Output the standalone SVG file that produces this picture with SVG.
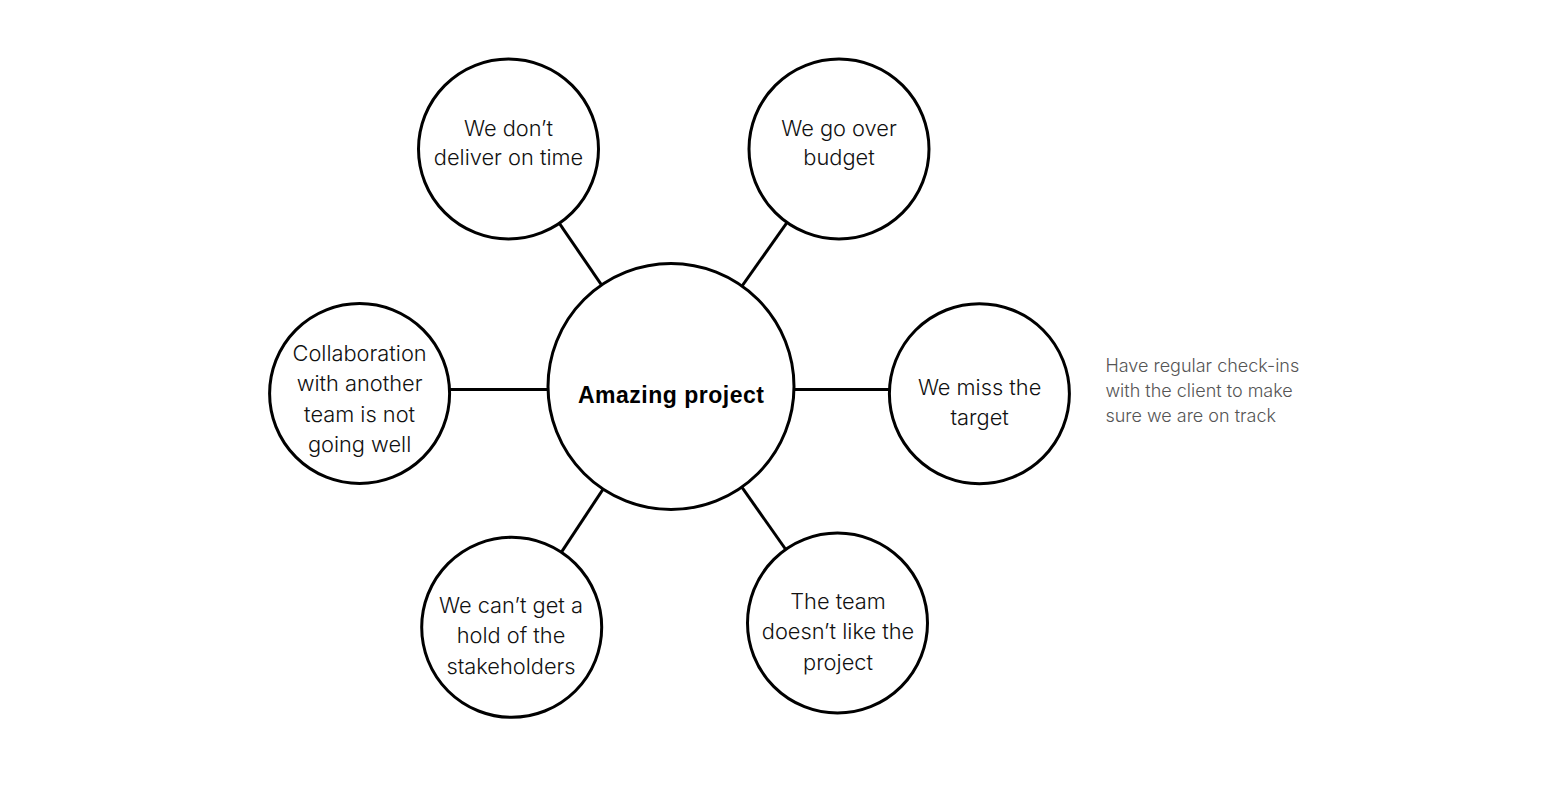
<svg xmlns="http://www.w3.org/2000/svg" width="1541" height="785" viewBox="0 0 1541 785">
<style>
  .bg { fill: #ffffff; }
  .conn { stroke: #000; stroke-width: 3; fill: none; }
  .node { fill: #fff; stroke: #000; stroke-width: 3; }
  .lbl { font-family: "Inter", "Liberation Sans", sans-serif; font-weight: 300; font-size: 21.8px; fill: #111; text-anchor: middle; }
  .main { font-family: "Liberation Sans", "Inter", sans-serif; font-weight: 700; font-size: 23px; fill: #000; text-anchor: middle; }
  .note { font-family: "Inter", "Liberation Sans", sans-serif; font-weight: 300; font-size: 18px; fill: #555; }
</style>
<rect class="bg" x="0" y="0" width="1541" height="785"/>
<g id="connectors">
  <line class="conn" x1="671" y1="386.5" x2="508.5" y2="149"/>
  <line class="conn" x1="671" y1="386.5" x2="839" y2="149"/>
  <line class="conn" x1="671" y1="389.5" x2="359.6" y2="389.5"/>
  <line class="conn" x1="671" y1="389.5" x2="979.4" y2="389.5"/>
  <line class="conn" x1="671" y1="386.5" x2="511.7" y2="627.3"/>
  <line class="conn" x1="671" y1="386.5" x2="837.5" y2="623"/>
</g>
<g id="node-center">
  <circle class="node" cx="671" cy="386.5" r="123"/>
  <text class="main" x="671" y="403" textLength="186" lengthAdjust="spacing">Amazing project</text>
</g>
<g id="node-time">
  <circle class="node" cx="508.5" cy="149" r="90"/>
  <text class="lbl" x="508.5" y="136">We don’t</text>
  <text class="lbl" x="508.5" y="165">deliver on time</text>
</g>
<g id="node-budget">
  <circle class="node" cx="839" cy="149" r="90"/>
  <text class="lbl" x="839" y="136">We go over</text>
  <text class="lbl" x="839" y="165">budget</text>
</g>
<g id="node-collab">
  <circle class="node" cx="359.6" cy="393.5" r="90"/>
  <text class="lbl" x="359.6" y="361">Collaboration</text>
  <text class="lbl" x="359.6" y="391">with another</text>
  <text class="lbl" x="359.6" y="421.5">team is not</text>
  <text class="lbl" x="359.6" y="451.5">going well</text>
</g>
<g id="node-target">
  <circle class="node" cx="979.4" cy="393.7" r="90"/>
  <text class="lbl" x="979.6" y="395">We miss the</text>
  <text class="lbl" x="979.6" y="425">target</text>
</g>
<g id="node-stakeholders">
  <circle class="node" cx="511.7" cy="627.3" r="90"/>
  <text class="lbl" x="511" y="612.7">We can’t get a</text>
  <text class="lbl" x="511" y="643.3">hold of the</text>
  <text class="lbl" x="511" y="674">stakeholders</text>
</g>
<g id="node-team">
  <circle class="node" cx="837.5" cy="623" r="90"/>
  <text class="lbl" x="838" y="609.3">The team</text>
  <text class="lbl" x="838" y="639.3">doesn’t like the</text>
  <text class="lbl" x="838" y="669.5">project</text>
</g>
<g id="note">
  <text class="note" x="1105.4" y="371.7">Have regular check-ins</text>
  <text class="note" x="1105.4" y="396.7">with the client to make</text>
  <text class="note" x="1105.4" y="421.7">sure we are on track</text>
</g>
</svg>
